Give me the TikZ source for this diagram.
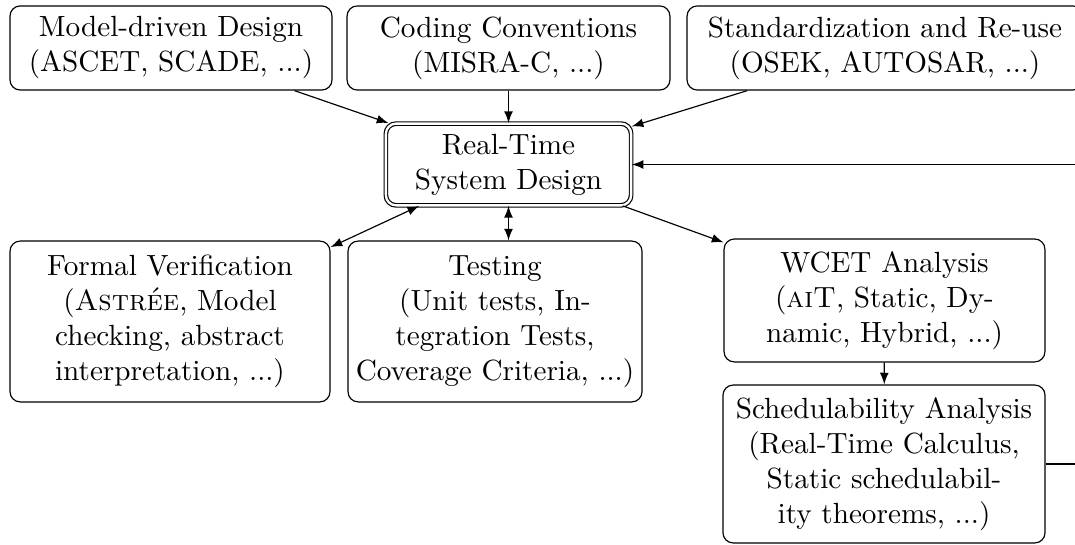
\documentclass[tikz,border=0pt]{standalone}
\usetikzlibrary{arrows}
\begin{document}
\begin{tikzpicture}[x=0.3425pt,y=-0.3425pt,>=latex,
  box/.style={draw,rounded corners=3.5pt,align=center,inner sep=2pt},
  dbox/.style={box,double,double distance=0.8pt}]
\useasboundingbox (0,0) rectangle (1075,545);
\node[box,minimum width=110.3pt,minimum height=28.8pt] (md) at (171,48) {Model-driven Design\\(ASCET, SCADE, ...)};
\node[box,minimum width=110.6pt,minimum height=28.8pt] (cc) at (508.5,48) {Coding Conventions\\(MISRA-C, ...)};
\node[box,minimum width=135.6pt,minimum height=28.8pt] (sr) at (885,48) {Standardization and Re-use\\(OSEK, AUTOSAR, ...)};
\node[dbox,minimum width=84pt,minimum height=28pt] (rt) at (508.5,164.5) {Real-Time\\System Design};
\node[box,minimum width=109.6pt,minimum height=55.1pt] (fv) at (170,321.5) {Formal Verification\\(\textsc{Astrée}, Model\\checking, abstract\\interpretation, ...)};
\node[box,minimum width=100.7pt,minimum height=55.1pt] (te) at (495,321.5) {Testing\\(Unit tests, In-\\tegration Tests,\\Coverage Criteria, ...)};
\node[box,minimum width=109.9pt,minimum height=42.1pt] (wc) at (884.5,300.5) {WCET Analysis\\(\textsc{aiT}, Static, Dy-\\namic, Hybrid, ...)};
\node[box,minimum width=110.3pt,minimum height=54.1pt] (sc) at (884,464) {Schedulability Analysis\\(Real-Time Calculus,\\Static schedulabil-\\ity theorems, ...)};
\coordinate (fb) at (1095,0);
\draw[->] (md) -- (rt);
\draw[->] (cc) -- (rt);
\draw[->] (sr) -- (rt);
\draw[<->] (fv) -- (rt);
\draw[<->] (rt.south) -- (rt.south |- te.north);
\draw[->] (rt) -- (wc);
\draw[->] (wc) -- (sc);
\draw[->] (sc.east) -| (fb |- rt.east) -- (rt.east);
\end{tikzpicture}
\end{document}
